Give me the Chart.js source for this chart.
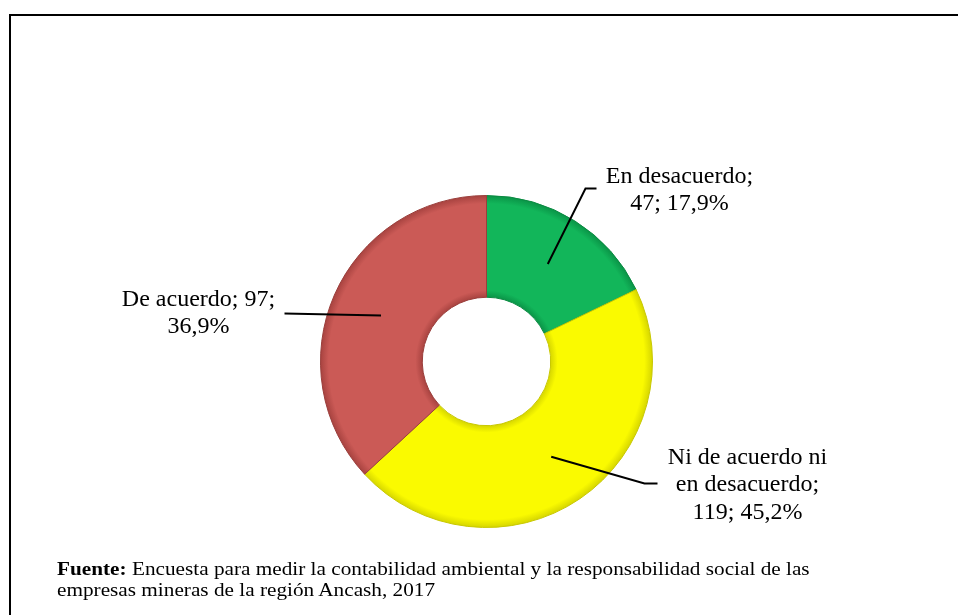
<!DOCTYPE html>
<html>
<head>
<meta charset="utf-8">
<script src="https://cdn.jsdelivr.net/npm/chart.js@4/dist/chart.umd.min.js"></script>
<style>
  html, body { margin: 0; padding: 0; background: #fff; }
  #wrap { position: relative; width: 958px; height: 615px; overflow: hidden; }
  #frame { position: absolute; left: 9px; top: 14px; width: 960px; height: 620px;
           border-top: 2px solid #000; border-left: 2px solid #000; }
  #chart { position: absolute; left: 0; top: 0; }
  #source { position: absolute; left: 57px; top: 559px; width: 760px; white-space: nowrap;
            font-family: "Liberation Serif", "Times New Roman", serif; font-size: 18px;
            line-height: 21px; color: #000; transform: scaleX(1.18); transform-origin: left top; }
</style>
</head>
<body>
<div id="wrap">
  <div id="frame"></div>
  <canvas id="chart" width="958" height="615"></canvas>
  <div id="source"><b>Fuente:</b> Encuesta para medir la contabilidad ambiental y la responsabilidad social de las<br>empresas mineras de la región Ancash, 2017</div>
</div>
<script>
const categories = ['En desacuerdo', 'Ni de acuerdo ni en desacuerdo', 'De acuerdo']
const counts = [47, 119, 97]
const percents = ['17,9%', '45,2%', '36,9%']
const labelLines = [
  ['En desacuerdo;', '47; 17,9%'],
  ['Ni de acuerdo ni', 'en desacuerdo;', '119; 45,2%'],
  ['De acuerdo; 97;', '36,9%']
]
const sliceColors = ['#12b65a', '#fafa00', '#cb5a56']
const rimColors = ['#0a9447', '#d6d600', '#a84340']
const edgeColors = ['#0b8a42', '#c8c800', '#9a3e3b']

// where each leader line bends and where its text sits, relative to the chart centre
const leaders = [
  { elbow: [99, -173], end: [110, -173], text: [193, -185] },
  { elbow: [158, 122], end: [171, 122], text: [261, 96] },
  { elbow: [-202, -48], end: [-202, -48], text: [-288, -62] }
]

const calloutPlugin = {
  id: 'callouts',
  afterDatasetsDraw(chart) {
    const ctx = chart.ctx
    const meta = chart.getDatasetMeta(0)
    const area = chart.chartArea
    const cx = (area.left + area.right) / 2
    const cy = (area.top + area.bottom) / 2
    ctx.save()
    meta.data.forEach((arc, i) => {
      const p = arc.tooltipPosition()
      const l = leaders[i]
      ctx.beginPath()
      ctx.strokeStyle = '#000'
      ctx.lineWidth = 2
      ctx.moveTo(p.x, p.y)
      ctx.lineTo(cx + l.elbow[0], cy + l.elbow[1])
      ctx.lineTo(cx + l.end[0], cy + l.end[1])
      ctx.stroke()

      ctx.fillStyle = '#000'
      ctx.font = '24px "Liberation Serif", "Times New Roman", serif'
      ctx.textAlign = 'center'
      ctx.textBaseline = 'middle'
      labelLines[i].forEach((line, j) => {
        ctx.fillText(line, cx + l.text[0], cy + l.text[1] + j * 27.5)
      })
    })
    ctx.restore()
  }
}

const shade = (context) => {
  const chart = context.chart
  const area = chart.chartArea
  if (!area) return sliceColors[context.dataIndex]
  const arc = chart.getDatasetMeta(0).data[context.dataIndex]
  const cx = (area.left + area.right) / 2
  const cy = (area.top + area.bottom) / 2
  const outer = arc && arc.outerRadius ? arc.outerRadius : 166
  const inner = arc && arc.innerRadius ? arc.innerRadius : 64
  const g = chart.ctx.createRadialGradient(cx, cy, inner, cx, cy, outer)
  const i = context.dataIndex
  g.addColorStop(0, rimColors[i])
  g.addColorStop(0.07, sliceColors[i])
  g.addColorStop(0.92, sliceColors[i])
  g.addColorStop(1, rimColors[i])
  return g
}

new Chart(document.getElementById('chart'), {
  type: 'doughnut',
  data: {
    labels: categories,
    datasets: [{
      data: counts,
      backgroundColor: shade,
      borderColor: edgeColors,
      borderWidth: 1
    }]
  },
  options: {
    responsive: false,
    animation: false,
    cutout: '38.7%',
    layout: { padding: { top: 195, bottom: 87, left: 320, right: 305 } },
    plugins: {
      legend: { display: false },
      tooltip: { enabled: false }
    }
  },
  plugins: [calloutPlugin]
})
</script>
</body>
</html>
